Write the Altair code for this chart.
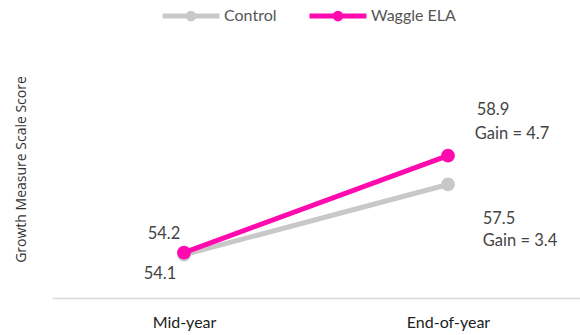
import altair as alt
import pandas as pd

periods = ["Mid-year", "End-of-year"]
series = ["Control", "Waggle ELA"]
control_values = [54.1, 57.5]
waggle_values = [54.2, 58.9]
gain_labels = {"Control": "Gain = 3.4", "Waggle ELA": "Gain = 4.7"}
colors = ["#c8c8c8", "#ff0aae"]

rows = []
for s, vals in zip(series, [control_values, waggle_values]):
    for p, v in zip(periods, vals):
        rows.append({"series": s, "period": p, "value": v,
                     "label": f"{v:.1f}", "gain": gain_labels[s]})
df = pd.DataFrame(rows)

FONT = "Lato"
legend_path = "M-1,0H1M0.1,0A0.1,0.1 0 1,1 -0.1,0A0.1,0.1 0 1,1 0.1,0"

x = alt.X("period:N", sort=periods, title=None,
          scale=alt.Scale(type="point", padding=0.5),
          axis=alt.Axis(labelAngle=0, ticks=False, domainColor="#d9d9d9", domainWidth=1.5,
                        labelFont=FONT, labelFontSize=16, labelColor="#222", labelPadding=16))
y = alt.Y("value:Q", title="Growth Measure Scale Score",
          scale=alt.Scale(domain=[52, 64.5], zero=False, nice=False),
          axis=alt.Axis(domain=False, ticks=False, labels=False, grid=False,
                        titleFont="Open Sans", titleFontSize=14, titleFontWeight="normal",
                        titleColor="#333", titlePadding=24))
color = alt.Color("series:N", scale=alt.Scale(domain=series, range=colors),
                  sort=series,
                  legend=alt.Legend(title=None, orient="none", direction="horizontal",
                                    legendX=108, legendY=-55,
                                    symbolType=legend_path, symbolSize=3249,
                                    symbolStrokeWidth=5, labelFont=FONT, labelFontSize=16,
                                    labelColor="#555", columnPadding=22, labelOffset=2))

base = alt.Chart(df).encode(x=x, y=y)

lines = base.mark_line(strokeWidth=5).encode(
    color=color, order=alt.Order("series:N"))
points = base.mark_circle(size=190, opacity=1).encode(
    color=alt.Color("series:N", scale=alt.Scale(domain=series, range=colors), legend=None))

def txt(series_name, period, field, dx, dy):
    return base.transform_filter(
        (alt.datum.series == series_name) & (alt.datum.period == period)
    ).mark_text(font=FONT, fontSize=16.5, color="#444", dx=dx, dy=dy).encode(text=f"{field}:N")

labels = [
    txt("Waggle ELA", "Mid-year", "label", -20, -19),
    txt("Control", "Mid-year", "label", -24, 19),
    txt("Waggle ELA", "End-of-year", "label", 45, -46),
    txt("Waggle ELA", "End-of-year", "gain", 64, -22),
    txt("Control", "End-of-year", "label", 51, 35),
    txt("Control", "End-of-year", "gain", 72, 57),
]

chart = alt.layer(lines, points, *labels).properties(
    width=528, height=258,
    padding={"left": 52, "top": 40, "right": 0, "bottom": 37},
    autosize=alt.AutoSizeParams(type="none"),
).configure_view(stroke=None)

chart.save("out.html", embed_options={"renderer": "svg", "actions": False})
